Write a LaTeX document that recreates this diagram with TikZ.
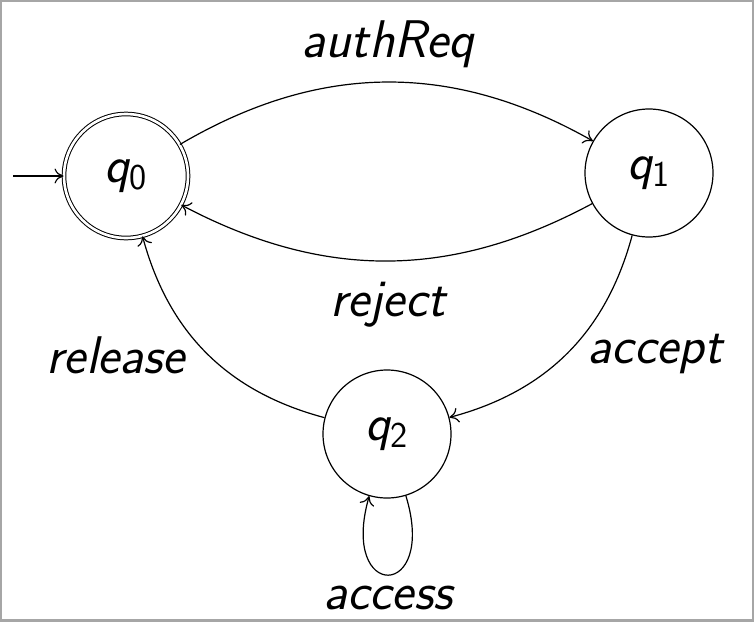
\documentclass[tikz,border=0pt]{standalone}
\usetikzlibrary{arrows.meta}
\tikzset{
  stt/.style={circle,draw,line width=0.6pt,minimum size=64pt,inner sep=0pt,
    font=\fontsize{26}{30}\selectfont\sffamily\slshape},
  accstt/.style={stt,minimum size=62pt,double,double distance=1.3pt,line width=0.5pt},
  lbl/.style={font=\fontsize{26.5}{30}\selectfont\sffamily\slshape,inner sep=0pt},
  conn/.style={line width=0.6pt,-{To[length=4.5pt,width=7.5pt]}},
  frame/.style={draw=black!35,line width=2pt}
}
\begin{document}
\begin{tikzpicture}[x=0.5pt,y=-0.5pt]
\useasboundingbox (0,0) rectangle (754,621);
\draw[frame] (0,0) rectangle (754,621);
\node[accstt] (q0) at (126,176) {q\textsubscript{\upshape 0}};
\node[stt] (q1) at (649,173) {q\textsubscript{\upshape 1}};
\node[stt] (q2) at (387,434) {q\textsubscript{\upshape 2}};
\coordinate (start) at (13,176);
\draw[conn] (start) -- (q0);
\draw[conn] (q0) to[bend left=30] (q1);
\draw[conn] (q1) to[bend left=28] (q0);
\draw[conn] (q1) to[bend left=30] (q2);
\draw[conn] (q2) to[bend left=30] (q0);
\draw[conn] (q2) to[out=-73,in=-106,distance=55pt] (q2);
\node[lbl] (lauth) at (388,44) {authReq};
\node[lbl] (lrej) at (388,305) {reject};
\node[lbl] (lacc) at (655,354) {accept};
\node[lbl] (lrel) at (116,355) {release};
\node[lbl] (lacs) at (388,598) {access};
\end{tikzpicture}
\end{document}
